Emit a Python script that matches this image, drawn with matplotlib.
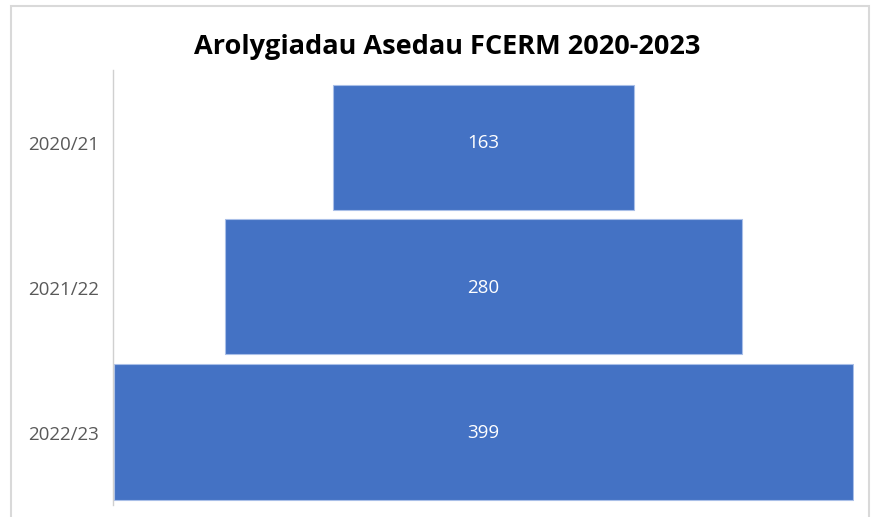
import matplotlib
matplotlib.use("Agg")
import matplotlib.pyplot as plt
from matplotlib.patches import Rectangle

categories = ["2020/21", "2021/22", "2022/23"]
values = [163, 280, 399]
title = "Arolygiadau Asedau FCERM 2020-2023"

W, H = 876, 517
fig = plt.figure(figsize=(W / 100, H / 100), dpi=100)
fig.patch.set_facecolor("white")

# chart frame
fig.patches.append(Rectangle((11 / W, -0.05), (869 - 11) / W, 1.05 - 6 / H,
                             transform=fig.transFigure, fill=False,
                             edgecolor="#D9D9D9", linewidth=1.5))

ax = fig.add_axes([113 / W, 1 - 505 / H, (854 - 113) / W, (505 - 70) / H])
ax.set_xlim(-200.3, 200.3)
ax.set_ylim(2.5, -0.5)

heights = [0.86, 0.93, 0.935]
offsets = [0.035, -0.007, -0.003]
ypos = [i + o for i, o in enumerate(offsets)]
lefts = [-v / 2 for v in values]
ax.barh(ypos, values, left=lefts, height=heights, color="#4472C4",
        edgecolor="#A9BFE8", linewidth=0.8)

for i, v in enumerate(values):
    ax.text(0, i, str(v), ha="center", va="center", color="white",
            fontsize=13.5, family=["Open Sans", "DejaVu Sans"])

ax.set_yticks(range(len(categories)))
ax.set_yticklabels(categories, fontsize=13.5, color="#595959",
                   family=["Open Sans", "DejaVu Sans"])
ax.tick_params(axis="y", length=0, pad=10)
ax.set_xticks([])
for s in ["top", "right", "bottom"]:
    ax.spines[s].set_visible(False)
ax.spines["left"].set_color("#D0D0D0")
ax.spines["left"].set_linestyle((0, (2, 1)))
ax.spines["left"].set_linewidth(1.0)

fig.text(447.5 / W, 1 - 47 / H, title, ha="center", va="center",
         fontsize=19.5, fontweight="bold", color="black",
         family=["Open Sans", "DejaVu Sans"])

fig.savefig("out.png", dpi=100)
